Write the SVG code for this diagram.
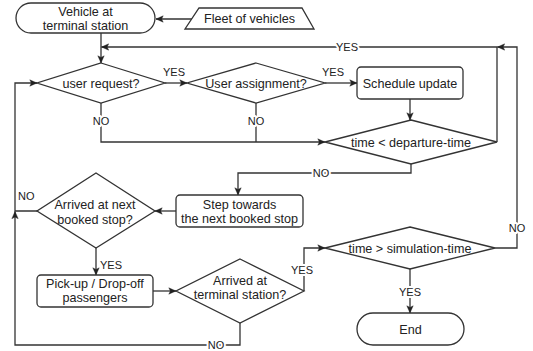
<svg xmlns="http://www.w3.org/2000/svg" width="533" height="351" viewBox="0 0 533 351">
<defs>
<marker id="arr" viewBox="0 0 10 10" refX="9.5" refY="5" markerWidth="8" markerHeight="8" markerUnits="userSpaceOnUse" orient="auto">
<path d="M0.5,1 L9.5,5 L0.5,9 L2.5,5 z" fill="#222" stroke="#222" stroke-width="0.5"/>
</marker>
<style>
.shape{fill:#fff;stroke:#333;stroke-width:1.3}
.edge{fill:none;stroke:#333;stroke-width:1.3}
.t{font-family:"Liberation Sans",Arial,sans-serif;font-size:12.6px;fill:#222;text-anchor:middle}
.lbl{font-family:"Liberation Sans",Arial,sans-serif;font-size:11px;fill:#222;text-anchor:middle;stroke:#fff;stroke-width:4;paint-order:stroke;stroke-linejoin:round}
</style>
</defs>
<rect width="533" height="351" fill="#fff"/>
<g id="connectors">
<path class="edge" d="M192,19 H156" marker-end="url(#arr)"/>
<path class="edge" d="M101,33 V63" marker-end="url(#arr)"/>
<path class="edge" d="M497,142 V47 H101.5" marker-end="url(#arr)"/>
<path class="edge" d="M165,83 H187" marker-end="url(#arr)"/>
<path class="edge" d="M325,83 H357" marker-end="url(#arr)"/>
<path class="edge" d="M410,99 V120" marker-end="url(#arr)"/>
<path class="edge" d="M101,103 V142 H325" marker-end="url(#arr)"/>
<path class="edge" d="M256,103 V142"/>
<path class="edge" d="M411,164 V173 H238 V195" marker-end="url(#arr)"/>
<path class="edge" d="M176,211 H155" marker-end="url(#arr)"/>
<path class="edge" d="M37,211 H15 V83 H37" marker-end="url(#arr)"/>
<path class="edge" d="M96,248 V275" marker-end="url(#arr)"/>
<path class="edge" d="M153,291 H176" marker-end="url(#arr)"/>
<path class="edge" d="M240,323 V345 H15 V211.5" marker-end="url(#arr)"/>
<path class="edge" d="M304,291 V248 H325" marker-end="url(#arr)"/>
<path class="edge" d="M495,248 H517 V47 H497.5" marker-end="url(#arr)"/>
<path class="edge" d="M410,269 V313" marker-end="url(#arr)"/>
<text class="lbl" x="347" y="51">YES</text>
<text class="lbl" x="174" y="76">YES</text>
<text class="lbl" x="333" y="76">YES</text>
<text class="lbl" x="101" y="125">NO</text>
<text class="lbl" x="256" y="125">NO</text>
<text class="lbl" x="321" y="177">NO</text>
<text class="lbl" x="18" y="200" style="text-anchor:start">NO</text>
<text class="lbl" x="100" y="269" style="text-anchor:start">YES</text>
<text class="lbl" x="216" y="349">NO</text>
<text class="lbl" x="302" y="274">YES</text>
<text class="lbl" x="517" y="232">NO</text>
<text class="lbl" x="410" y="296">YES</text>
</g>
<g id="vehicle-terminal">
<rect class="shape" x="16" y="3" width="139" height="30" rx="15"/>
<text class="t" x="85.5" y="16">Vehicle at</text>
<text class="t" x="85.5" y="30">terminal station</text>
</g>
<g id="fleet">
<polygon class="shape" points="199,8 302,8 314,29 185,29"/>
<text class="t" x="249.5" y="23">Fleet of vehicles</text>
</g>
<g id="user-request">
<polygon class="shape" points="101,63 165,83 101,103 37,83"/>
<text class="t" x="101" y="87.5">user request?</text>
</g>
<g id="user-assignment">
<polygon class="shape" points="256,63 325,83 256,103 187,83"/>
<text class="t" x="256" y="87.5">User assignment?</text>
</g>
<g id="schedule-update">
<rect class="shape" x="357" y="67" width="106" height="32" rx="4"/>
<text class="t" x="410" y="87.5">Schedule update</text>
</g>
<g id="departure-check">
<polygon class="shape" points="411,120 497,142 411,164 325,142"/>
<text class="t" x="411" y="146.5">time &lt; departure-time</text>
</g>
<g id="step-towards">
<rect class="shape" x="176" y="195" width="127" height="32" rx="4"/>
<text class="t" x="239.5" y="208.5">Step towards</text>
<text class="t" x="239.5" y="222.5">the next booked stop</text>
</g>
<g id="arrived-next">
<polygon class="shape" points="96,173 155,211 96,248 37,211"/>
<text class="t" x="95" y="208.5">Arrived at next</text>
<text class="t" x="95" y="223.5">booked stop?</text>
</g>
<g id="pickup">
<rect class="shape" x="37" y="275" width="116" height="32" rx="4"/>
<text class="t" x="95" y="288">Pick-up / Drop-off</text>
<text class="t" x="95" y="302">passengers</text>
</g>
<g id="arrived-terminal">
<polygon class="shape" points="240,259 304,291 240,323 176,291"/>
<text class="t" x="240" y="285">Arrived at</text>
<text class="t" x="240" y="299">terminal station?</text>
</g>
<g id="simulation-check">
<polygon class="shape" points="410,227 495,248 410,269 325,248"/>
<text class="t" x="410" y="252.5">time &gt; simulation-time</text>
</g>
<g id="end">
<rect class="shape" x="357" y="313" width="107" height="32" rx="16"/>
<text class="t" x="410.5" y="333.5">End</text>
</g>
</svg>
